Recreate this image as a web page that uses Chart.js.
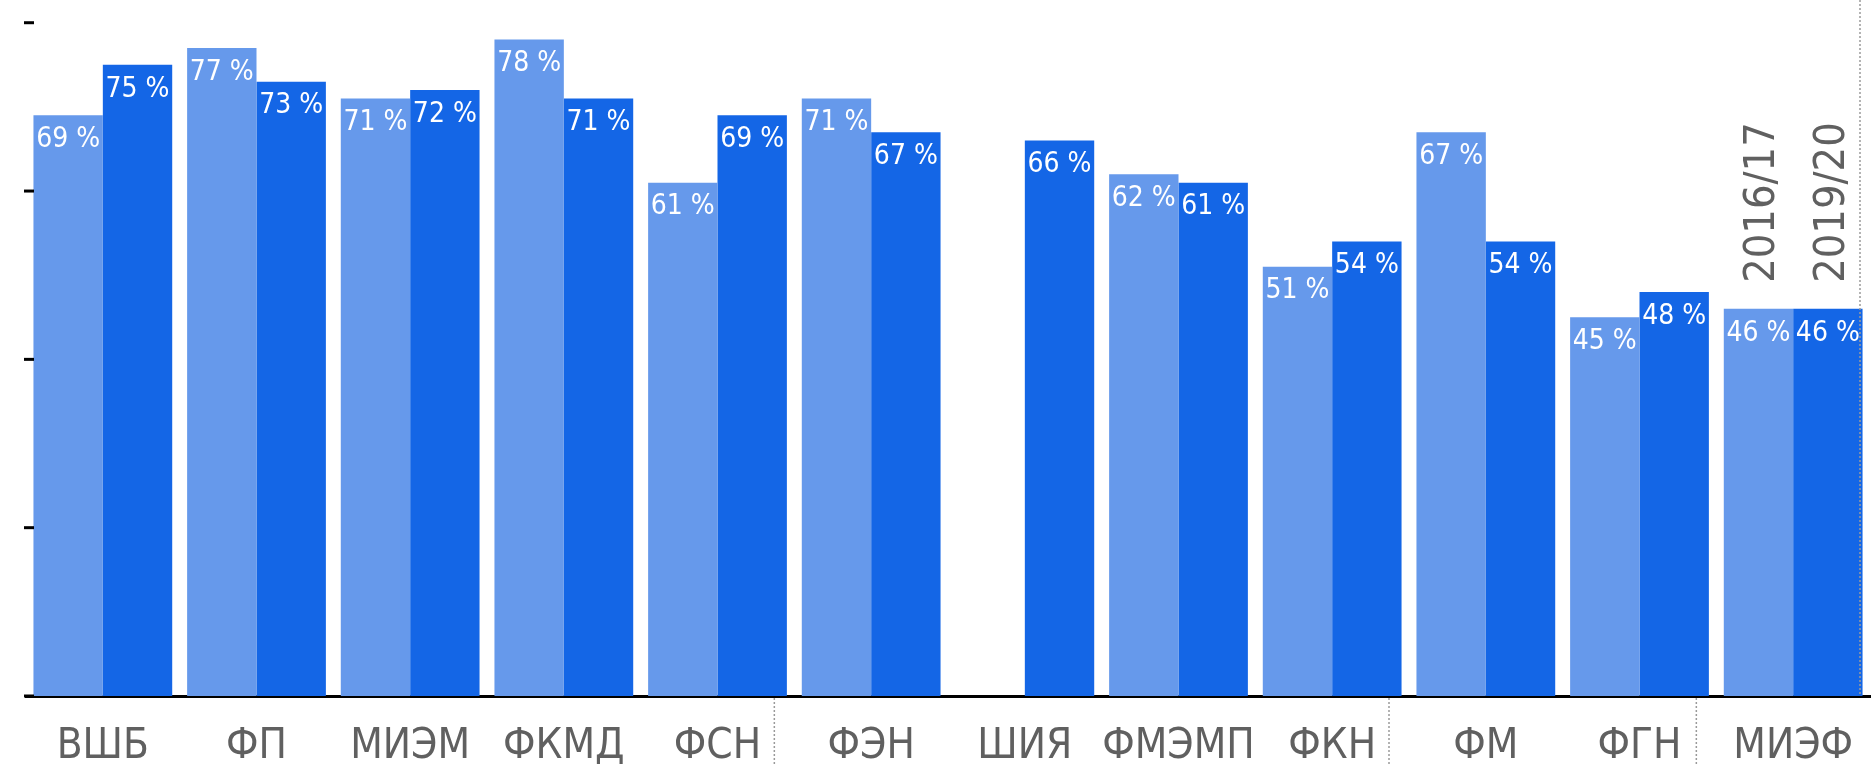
<!DOCTYPE html>
<html>
<head>
<meta charset="utf-8">
<script src="https://cdn.jsdelivr.net/npm/chart.js@4"></script>
<style>
  html, body { margin: 0; padding: 0; background: #fff; }
  #wrap { width: 1876px; height: 764px; position: relative; }
</style>
</head>
<body>
<div id="wrap"><canvas id="chart"></canvas></div>
<script>
const categories = ['ВШБ', 'ФП', 'МИЭМ', 'ФКМД', 'ФСН', 'ФЭН', 'ШИЯ', 'ФМЭМП', 'ФКН', 'ФМ', 'ФГН', 'МИЭФ'];
const seriesNames = ['2016/17', '2019/20'];
const values2016 = [69, 77, 71, 78, 61, 71, null, 62, 51, 67, 45, 46];
const values2019 = [75, 73, 72, 71, 69, 67, 66, 61, 54, 54, 48, 46];
const yTicks = [0, 20, 40, 60, 80];
// dotted separators drawn after these category indexes
const separatorsAfter = [4, 8, 10];

const FONT = '"DejaVu Sans Condensed", "Liberation Sans Narrow", "DejaVu Sans", sans-serif';
const CAP = 0.729; // cap height / font size, roughly
const LIGHT = '#6699EB';
const DARK = '#1466E6';
const GREY = '#606060';

// white value labels inside bars + rotated series names over the last group
const barLabels = {
  id: 'barLabels',
  afterDatasetsDraw(chart) {
    const ctx = chart.ctx;
    ctx.save();
    ctx.textBaseline = 'alphabetic';
    chart.data.datasets.forEach((ds, di) => {
      const meta = chart.getDatasetMeta(di);
      meta.data.forEach((bar, i) => {
        const v = ds.data[i];
        if (v == null) return;
        ctx.fillStyle = '#fff';
        ctx.font = '28px ' + FONT;
        ctx.textAlign = 'center';
        ctx.fillText(v + ' %', bar.x, bar.y + 21.5 + 28 * CAP / 2);
      });
      const last = meta.data[meta.data.length - 1];
      ctx.save();
      ctx.translate(last.x, last.y - 26);
      ctx.rotate(-Math.PI / 2);
      ctx.fillStyle = GREY;
      ctx.font = '43px ' + FONT;
      ctx.textAlign = 'left';
      ctx.fillText(seriesNames[di], 0, 43 * CAP / 2);
      ctx.restore();
    });
    ctx.restore();
  }
};

// category labels, left tick marks and dotted separators
const extras = {
  id: 'extras',
  afterDraw(chart) {
    const ctx = chart.ctx;
    const area = chart.chartArea;
    const x = chart.scales.x, y = chart.scales.y;
    ctx.save();

    ctx.fillStyle = GREY;
    ctx.font = '42px ' + FONT;
    ctx.textAlign = 'center';
    ctx.textBaseline = 'alphabetic';
    categories.forEach((c, i) => {
      ctx.fillText(c, x.getPixelForTick(i), area.bottom + 62);
    });

    ctx.strokeStyle = '#000';
    ctx.lineWidth = 3;
    yTicks.forEach(t => {
      const py = y.getPixelForValue(t);
      ctx.beginPath();
      ctx.moveTo(area.left - 2, py);
      ctx.lineTo(area.left + 8, py);
      ctx.stroke();
    });

    ctx.strokeStyle = '#9a9a9a';
    ctx.lineWidth = 1.5;
    ctx.setLineDash([2, 2]);
    separatorsAfter.forEach(i => {
      const px = (x.getPixelForTick(i) + x.getPixelForTick(i + 1)) / 2 - 20;
      ctx.beginPath();
      ctx.moveTo(px, area.bottom + 2);
      ctx.lineTo(px, chart.height);
      ctx.stroke();
    });
    const rx = area.right - 10;
    ctx.beginPath();
    ctx.moveTo(rx, 0);
    ctx.lineTo(rx, area.bottom);
    ctx.stroke();
    ctx.restore();
  }
};

new Chart(document.getElementById('chart'), {
  type: 'bar',
  data: {
    labels: categories,
    datasets: [
      { label: seriesNames[0], data: values2016, backgroundColor: LIGHT },
      { label: seriesNames[1], data: values2019, backgroundColor: DARK }
    ]
  },
  options: {
    responsive: true,
    maintainAspectRatio: false,
    animation: false,
    layout: { padding: { left: 26, right: 6, top: 0, bottom: 0 } },
    datasets: { bar: { categoryPercentage: 0.903, barPercentage: 1.0 } },
    plugins: {
      legend: { display: false },
      tooltip: { enabled: false }
    },
    scales: {
      x: {
        grid: { display: false, drawTicks: false },
        border: { display: true, color: '#000', width: 3 },
        ticks: { display: false },
        afterFit(scale) { scale.height = 68; }
      },
      y: {
        display: false,
        min: 0,
        max: 82.7
      }
    }
  },
  plugins: [barLabels, extras]
});
</script>
</body>
</html>
